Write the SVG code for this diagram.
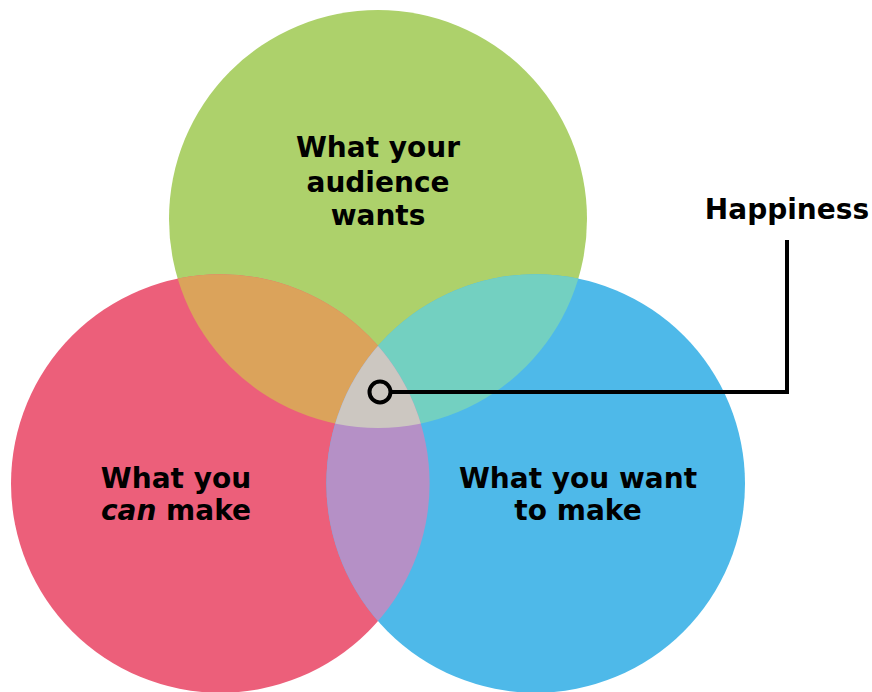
<svg xmlns="http://www.w3.org/2000/svg" width="872" height="692" viewBox="0 0 872 692">
  <style>
    .label { font-family: "DejaVu Sans", "Liberation Sans", sans-serif; font-weight: bold; font-size: 28px; fill: #000; text-anchor: middle; }
    .lead { fill: none; stroke: #000; stroke-width: 4; }
  </style>
  <defs>
    <circle id="c-top" cx="378" cy="219" r="209"/>
    <circle id="c-left" cx="220.3" cy="483.5" r="209.3"/>
    <circle id="c-right" cx="535.7" cy="483.5" r="209.3"/>
    <clipPath id="clip-top"><use href="#c-top"/></clipPath>
    <clipPath id="clip-left"><use href="#c-left"/></clipPath>
    <clipPath id="clip-right"><use href="#c-right"/></clipPath>
  </defs>

  <rect width="872" height="692" fill="#fff"/>

  <!-- Sets -->
  <g id="audience-wants"><use href="#c-top" fill="#ADD16B"/></g>
  <g id="can-make"><use href="#c-left" fill="#EC5F7A"/></g>
  <g id="want-to-make"><use href="#c-right" fill="#4EB9E9"/></g>

  <!-- Overlaps -->
  <g id="overlap-top-left" clip-path="url(#clip-top)"><use href="#c-left" fill="#DBA35B"/></g>
  <g id="overlap-top-right" clip-path="url(#clip-top)"><use href="#c-right" fill="#73D0C1"/></g>
  <g id="overlap-left-right" clip-path="url(#clip-left)"><use href="#c-right" fill="#B590C6"/></g>
  <g id="overlap-all" clip-path="url(#clip-top)"><g clip-path="url(#clip-left)"><use href="#c-right" fill="#CCC7C1"/></g></g>

  <!-- Labels -->
  <g id="audience-wants-label">
    <text class="label" x="378" y="157">What your</text>
    <text class="label" x="378" y="192">audience</text>
    <text class="label" x="378" y="225">wants</text>
  </g>
  <g id="can-make-label">
    <text class="label" x="176" y="488">What you</text>
    <text class="label" x="176" y="520"><tspan font-style="italic">can</tspan> make</text>
  </g>
  <g id="want-to-make-label">
    <text class="label" x="578" y="488">What you want</text>
    <text class="label" x="578" y="520">to make</text>
  </g>

  <!-- Callout -->
  <g id="connectors">
    <polyline class="lead" points="391,392 787,392 787,240"/>
    <circle class="lead" cx="380" cy="392" r="10.5" fill="#CCC7C1"/>
  </g>
  <g id="happiness">
    <text class="label" x="787" y="219">Happiness</text>
  </g>
</svg>
